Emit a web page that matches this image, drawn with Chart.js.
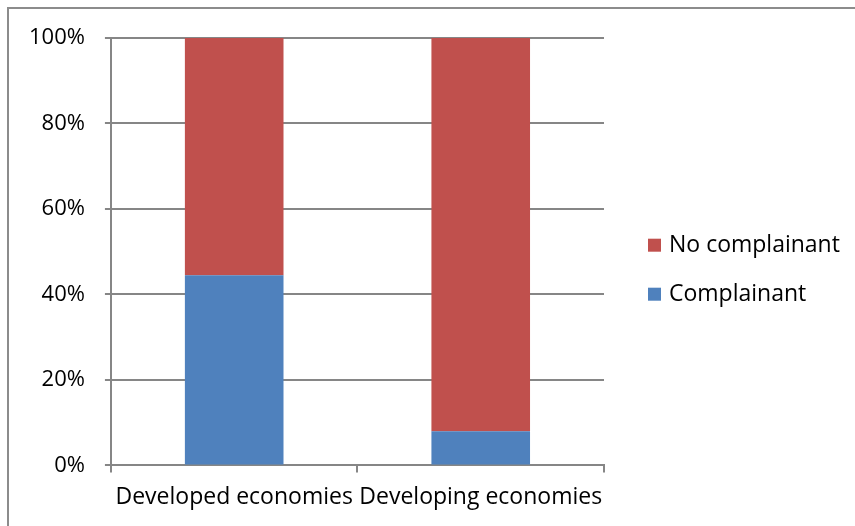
<!DOCTYPE html>
<html>
<head>
<meta charset="utf-8">
<script src="https://cdn.jsdelivr.net/npm/chart.js@4"></script>
<style>
  html, body { margin: 0; padding: 0; background: #fff; }
  #wrap { width: 855px; height: 526px; position: relative; }
</style>
</head>
<body>
<div id="wrap"><canvas id="myChart" width="855" height="526"></canvas></div>
<script>
var categories = ['Developed economies', 'Developing economies'];
var complainant = [44.5, 8];
var noComplainant = [55.5, 92];
var yTicks = ['0%', '20%', '40%', '60%', '80%', '100%'];

var gridColor = '#868686';
var fontFamily = 'Open Sans';

// outer frame, only top and left edges are visible in the picture
var framePlugin = {
  id: 'frame',
  beforeDraw: function(chart) {
    var c = chart.ctx;
    c.save();
    c.fillStyle = '#fff';
    c.fillRect(0, 0, chart.width, chart.height);
    c.strokeStyle = '#8c8c8c';
    c.lineWidth = 2;
    c.beginPath();
    c.moveTo(8, chart.height);
    c.lineTo(8, 8);
    c.lineTo(chart.width, 8);
    c.stroke();
    c.restore();
  }
};

// legend drawn by hand so the text is not clipped, reversed order like the original
var legendPlugin = {
  id: 'sideLegend',
  afterDraw: function(chart) {
    var c = chart.ctx;
    var area = chart.chartArea;
    var x = area.right + 44;
    var yMid = (area.top + area.bottom) / 2 + 18;
    var step = 49;
    var sets = chart.data.datasets.slice().reverse();
    c.save();
    c.font = '23px ' + fontFamily;
    c.textBaseline = 'middle';
    sets.forEach(function(ds, i) {
      var y = yMid + (i - (sets.length - 1) / 2) * step;
      c.fillStyle = ds.backgroundColor;
      c.fillRect(x, y - 6.5, 13, 13);
      c.fillStyle = '#000';
      c.fillText(ds.label, x + 21, y);
    });
    c.restore();
  }
};

var ctx = document.getElementById('myChart').getContext('2d');
var chart = new Chart(ctx, {
  type: 'bar',
  data: {
    labels: categories,
    datasets: [{
      label: 'Complainant',
      backgroundColor: '#4F81BD',
      data: complainant
    }, {
      label: 'No complainant',
      backgroundColor: '#C0504D',
      data: noComplainant
    }]
  },
  plugins: [framePlugin, legendPlugin],
  options: {
    responsive: false,
    animation: false,
    layout: { padding: { left: 9, right: 251, top: 38, bottom: 4 } },
    datasets: { bar: { categoryPercentage: 1, barPercentage: 0.4 } },
    plugins: {
      tooltip: { enabled: false },
      legend: { display: false }
    },
    scales: {
      x: {
        stacked: true,
        grid: { offset: true, drawOnChartArea: false, color: gridColor, lineWidth: 2, tickLength: 7 },
        border: { color: gridColor, width: 2 },
        ticks: { color: '#000', padding: 11, autoSkip: false, font: { family: fontFamily, size: 23 }, maxRotation: 0 }
      },
      y: {
        stacked: true,
        min: 0,
        max: 100,
        grid: { color: gridColor, lineWidth: 2, tickLength: 6 },
        border: { color: gridColor, width: 2 },
        ticks: {
          stepSize: 20,
          padding: 20,
          color: '#000',
          font: { family: fontFamily, size: 22 },
          callback: function(v) { return yTicks[v / 20]; }
        }
      }
    }
  }
});
</script>
</body>
</html>
